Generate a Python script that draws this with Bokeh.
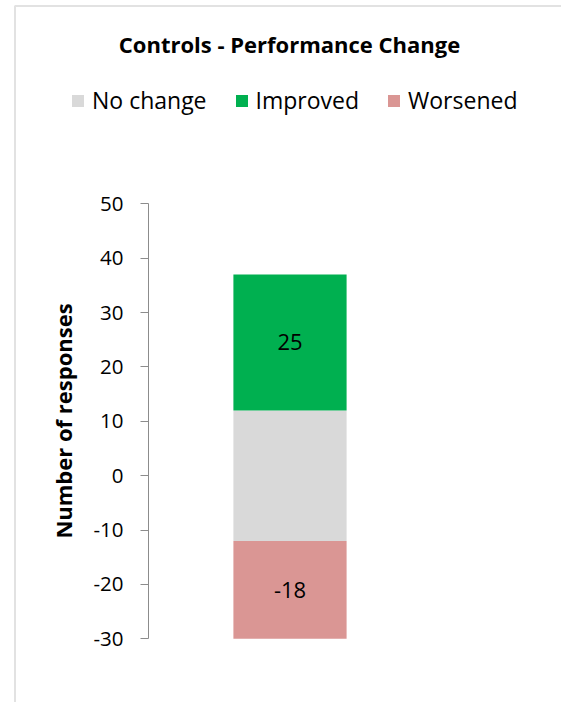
from bokeh.plotting import figure
from bokeh.models import (Range1d, FixedTicker, Legend, LegendItem, Label,
                          BoxAnnotation, ColumnDataSource, PrintfTickFormatter)
from bokeh.core.properties import value
from bokeh.embed import file_html
from bokeh.resources import INLINE

# ---- data ----
categories = ["Controls"]
series_names = ["No change", "Improved", "Worsened"]
no_change = [24]
improved = [25]
worsened = [-18]
y_ticks = [-30, -20, -10, 0, 10, 20, 30, 40, 50]
title_text = "Controls - Performance Change"
y_label = "Number of responses"

# ---- styling / layout constants (pixels) ----
FONT = "Open Sans"
C_NC, C_IMP, C_WOR = "#D9D9D9", "#00B050", "#DA9694"
W, H = 561, 702
PLOT_LEFT, PLOT_RIGHT = 148, 431        # Excel plot area (x, px)
AX_TOP, AX_BOT = 203.3, 638.3           # pixel rows of first / last tick
BAR_W = 0.4

half = [v / 2 for v in no_change]
xs = list(range(len(categories)))
src = ColumnDataSource(dict(
    x=xs,
    nc_bottom=[-h for h in half], nc_top=half,
    imp_bottom=half, imp_top=[h + v for h, v in zip(half, improved)],
    wor_top=[-h for h in half], wor_bottom=[-h + v for h, v in zip(half, worsened)],
    imp_mid=[h + v / 2 for h, v in zip(half, improved)],
    wor_mid=[-h + v / 2 for h, v in zip(half, worsened)],
    imp_lbl=[str(v) for v in improved],
    wor_lbl=[str(v) for v in worsened],
))

slot = PLOT_RIGHT - PLOT_LEFT
ppu = (AX_BOT - AX_TOP) / (y_ticks[-1] - y_ticks[0])
x_range = Range1d(-0.5 - PLOT_LEFT / slot, len(categories) - 0.5 + (W - PLOT_RIGHT) / slot)
y_range = Range1d(y_ticks[0] - (H - AX_BOT) / ppu, y_ticks[-1] + AX_TOP / ppu)

p = figure(width=W, height=H, output_backend="svg", toolbar_location=None,
           x_range=x_range, y_range=y_range, title=None,
           x_axis_location=None, y_axis_location="left",
           min_border=0, min_border_left=0, min_border_right=0,
           min_border_top=0, min_border_bottom=0)
p.outline_line_color = None
p.xgrid.visible = False
p.ygrid.visible = False

ax = p.yaxis[0]
ax.fixed_location = -0.5
ax.bounds = (y_ticks[0], y_ticks[-1])
ax.ticker = FixedTicker(ticks=y_ticks)
ax.formatter = PrintfTickFormatter(format="%d")
ax.minor_tick_line_color = None
ax.axis_line_color = "#8C8C8C"
ax.major_tick_line_color = "#8C8C8C"
ax.major_tick_in = 0
ax.major_tick_out = 8
ax.major_label_standoff = 17
ax.major_label_text_font = FONT
ax.major_label_text_font_size = "20.5px"
ax.major_label_text_color = "black"
ax.axis_label = y_label
ax.axis_label_text_font = FONT
ax.axis_label_text_font_style = "bold"
ax.axis_label_text_font_size = "22px"
ax.axis_label_text_color = "black"
ax.axis_label_standoff = 12

r_nc = p.vbar(x="x", bottom="nc_bottom", top="nc_top", width=BAR_W, source=src,
              fill_color=C_NC, line_color=None)
r_imp = p.vbar(x="x", bottom="imp_bottom", top="imp_top", width=BAR_W, source=src,
               fill_color=C_IMP, line_color=None)
r_wor = p.vbar(x="x", bottom="wor_bottom", top="wor_top", width=BAR_W, source=src,
               fill_color=C_WOR, line_color=None)

for ycol, tcol in (("imp_mid", "imp_lbl"), ("wor_mid", "wor_lbl")):
    p.text(x="x", y=ycol, text=tcol, source=src, text_font=value(FONT),
           text_font_size="22px", text_align="center", text_baseline="middle",
           text_color="black")

legend = Legend(items=[LegendItem(label=series_names[0], renderers=[r_nc]),
                       LegendItem(label=series_names[1], renderers=[r_imp]),
                       LegendItem(label=series_names[2], renderers=[r_wor])],
                orientation="horizontal", location=(70, H - 116),
                glyph_width=15, glyph_height=15, label_standoff=7, spacing=27,
                padding=0, margin=0, border_line_color=None, background_fill_alpha=0,
                label_text_font=FONT, label_text_font_size="23px", label_text_color="black")
p.add_layout(legend, "center")

p.add_layout(Label(x=289, y=H - 43, x_units="screen", y_units="screen", text=title_text,
                   text_font=FONT, text_font_style="bold", text_font_size="22px",
                   text_align="center", text_baseline="middle", text_color="black"))

p.add_layout(BoxAnnotation(left=14.5, right=W + 100, top=H - 5.5, bottom=-100,
                           left_units="screen", right_units="screen",
                           top_units="screen", bottom_units="screen",
                           fill_alpha=0, line_color="#A0A0A0", line_width=2))

open("out.html", "w").write(file_html(p, INLINE))
